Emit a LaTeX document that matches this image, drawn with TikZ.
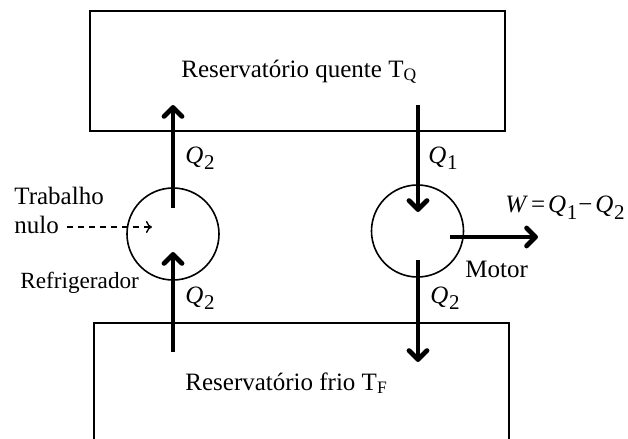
\documentclass[tikz,border=0pt]{standalone}
\usepackage{fontspec}
\setmainfont{Liberation Serif}
\usetikzlibrary{arrows.meta}

\newcommand{\qsub}[1]{\textit{Q}\kern0.3pt\raisebox{-0.55ex}{\fontsize{10.5}{12}\selectfont #1}}

\begin{document}
\begin{tikzpicture}[x=0.5pt, y=-0.5pt, font=\fontsize{12.5}{15}\selectfont,
        heat/.style={-{Straight Barb[length=4.5pt, width=9pt, line cap=round, line join=round]}, line width=2.4pt},
        reserv/.style={draw, line width=1pt, inner sep=0, anchor=north west, minimum width=207.5pt},
        machine/.style={draw, circle, line width=0.8pt, minimum size=46pt, inner sep=0},
        lbl/.style={anchor=base west, inner sep=0}]
    \useasboundingbox (0,0) rectangle (628,439);

    % reservatorios
    \node (hot) [reserv, minimum height=60pt] at (89,10) {};
    \node (cold) [reserv, minimum height=80pt] at (93,322) {};
    \node (hotlabel) [lbl] at (181,77) {Reservatório quente T\textsubscript{Q}};
    \node (coldlabel) [lbl] at (185,390) {Reservatório frio T\textsubscript{F}};

    % maquinas
    \node (refr) [machine] at (173,234) {};
    \node (motor) [machine] at (417.5,231) {};

    \coordinate (rtop) at (173,208);
    \coordinate (rtip) at (173,105);
    \coordinate (rlow) at (173,352);
    \coordinate (rin) at (173,252);
    \coordinate (mtop) at (418,105);
    \coordinate (min) at (418,212);
    \coordinate (mlow) at (418,260);
    \coordinate (mout) at (418,362);
    \coordinate (wstart) at (450,237);
    \coordinate (wtip) at (538,237);
    \coordinate (tstart) at (67,227);
    \coordinate (ttip) at (152,227);

    \draw[heat] (rtop) -- (rtip);
    \draw[heat] (rlow) -- (rin);
    \draw[heat] (mtop) -- (min);
    \draw[heat] (mlow) -- (mout);
    \draw[heat] (wstart) -- (wtip);
    \draw[-{To[length=3pt, width=6pt]}, line width=0.7pt, dash pattern=on 3pt off 2.5pt] (tstart) -- (ttip);

    % rotulos
    \node (q2a) [lbl] at (185,163) {\qsub{2}};
    \node (q1) [lbl] at (428,163) {\qsub{1}};
    \node (q2b) [lbl] at (185,303) {\qsub{2}};
    \node (q2c) [lbl] at (430,303) {\qsub{2}};
    \node (wlabel) [lbl] at (505,213) {\textit{W}\kern1.5pt=\kern1.5pt\qsub{1}\kern0.5pt−\kern1.5pt\qsub{2}};
    \node (motorlabel) [lbl] at (465,277) {Motor};
    \node (refrlabel) [lbl, font=\fontsize{11.6}{14}\selectfont] at (20,288) {Refrigerador};
    \node (trablabel) [lbl] at (14,205) {Trabalho};
    \node (nulolabel) [lbl] at (14,233) {nulo};
\end{tikzpicture}
\end{document}
